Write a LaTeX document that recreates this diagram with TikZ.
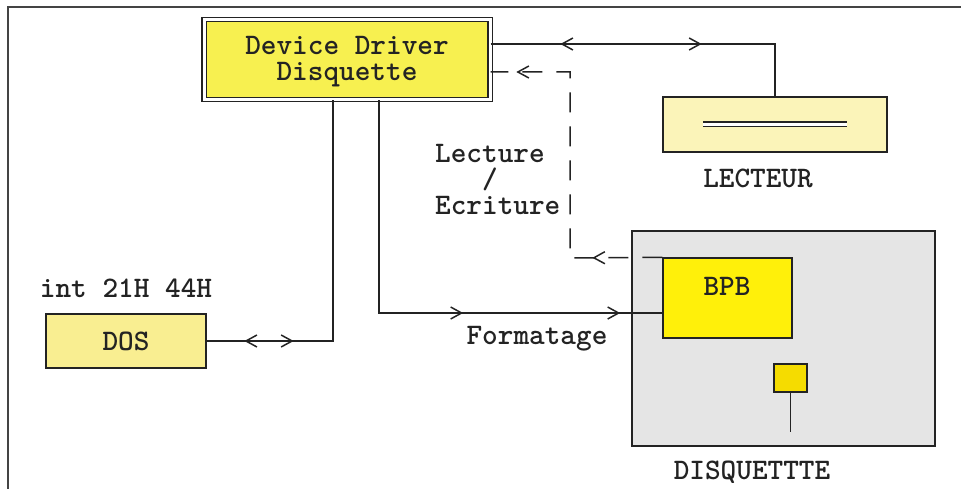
\documentclass[tikz,border=0pt]{standalone}
\usepackage{fontspec}
\usetikzlibrary{arrows.meta,positioning,decorations.markings}
\newcommand{\schemafont}{\fontsize{29.8}{26}\selectfont\ttfamily\bfseries}
\definecolor{ink}{RGB}{35,35,35}
\definecolor{ddyellow}{RGB}{247,240,80}
\definecolor{dosyellow}{RGB}{249,238,145}
\definecolor{lectyellow}{RGB}{251,244,185}
\definecolor{bpbyellow}{RGB}{255,240,10}
\definecolor{headyellow}{RGB}{245,220,0}
\definecolor{diskgray}{RGB}{229,229,229}

\begin{document}
\begin{tikzpicture}[
  x=1pt, y=-1pt,
  every node/.style={font=\schemafont,text=ink,inner sep=0pt},
  box/.style={draw=ink,line width=1.4pt},
  conn/.style={ink,line width=1.5pt},
  >={Straight Barb[length=11pt,width=12pt,line width=1.5pt]},
  tipfwd/.style={postaction={decorate,decoration={markings,mark=at position #1 with {\arrow{>}}}}},
  tipback/.style={postaction={decorate,decoration={markings,mark=at position #1 with {\arrow{<}}}}}
]
\useasboundingbox (0,0) rectangle (961,489);
\draw[ink!85,line width=1.6pt] (961,7) -| (8,489);

\node[box,double,double distance=3pt,fill=ddyellow,minimum width=286pt,minimum height=80pt] (dd) at (347,59.5) {};
\node[align=center] (ddlbl) at (347,62) {Device Driver\\Disquette};

\node[box,fill=dosyellow,minimum width=160pt,minimum height=54pt] (dos) at (126,341) {DOS};
\node (intlbl) at (126,288) {int 21H 44H};

\node[box,fill=lectyellow,minimum width=224pt,minimum height=55pt] (lect) at (775,124.5) {};
\draw[ink,double,double distance=3pt,line width=1.5pt] ([xshift=-72pt]lect.center) -- ([xshift=72pt]lect.center);
\node (lectlbl) at (758,178) {LECTEUR};

\node[box,fill=diskgray,minimum width=303pt,minimum height=215pt] (disk) at (783.5,338.5) {};
\node (disklbl) at (752,472) {DISQUETTTE};
\node[box,fill=bpbyellow,minimum width=129pt,minimum height=80pt] (bpb) at (727.5,298) {};
\node (bpblbl) at (727,286) {BPB};
\node[box,fill=headyellow,minimum width=33pt,minimum height=28pt] (head) at (790.5,378) {};
\coordinate (headend) at (790.5,432);
\draw[conn] (head) -- (headend);

\node[anchor=west,align=left] (rwlbl) at (435,179) {Lecture\\\phantom{Lec}/\\Ecriture};
\node (fmtlbl) at (537,339) {Formatage};

% liaisons
\draw[conn,tipback=51pt,tipfwd=87pt] (dos.east) -| ([xshift=-14pt]dd.south);
\draw[conn,tipfwd=297pt,tipfwd=454pt] ([xshift=32pt]dd.south) |- ([yshift=-15pt]bpb.west);
\draw[conn,tipback=83pt,tipfwd=211pt] ([yshift=15.5pt]dd.east) -| (lect.north);
\coordinate (rwbend) at (570,258);
\draw[conn,dash pattern=on 20pt off 14pt,tipfwd=70pt,tipfwd=332pt]
  (bpb.north west) -- (rwbend) |- ([yshift=-12.5pt]dd.east);

\end{tikzpicture}
\end{document}
